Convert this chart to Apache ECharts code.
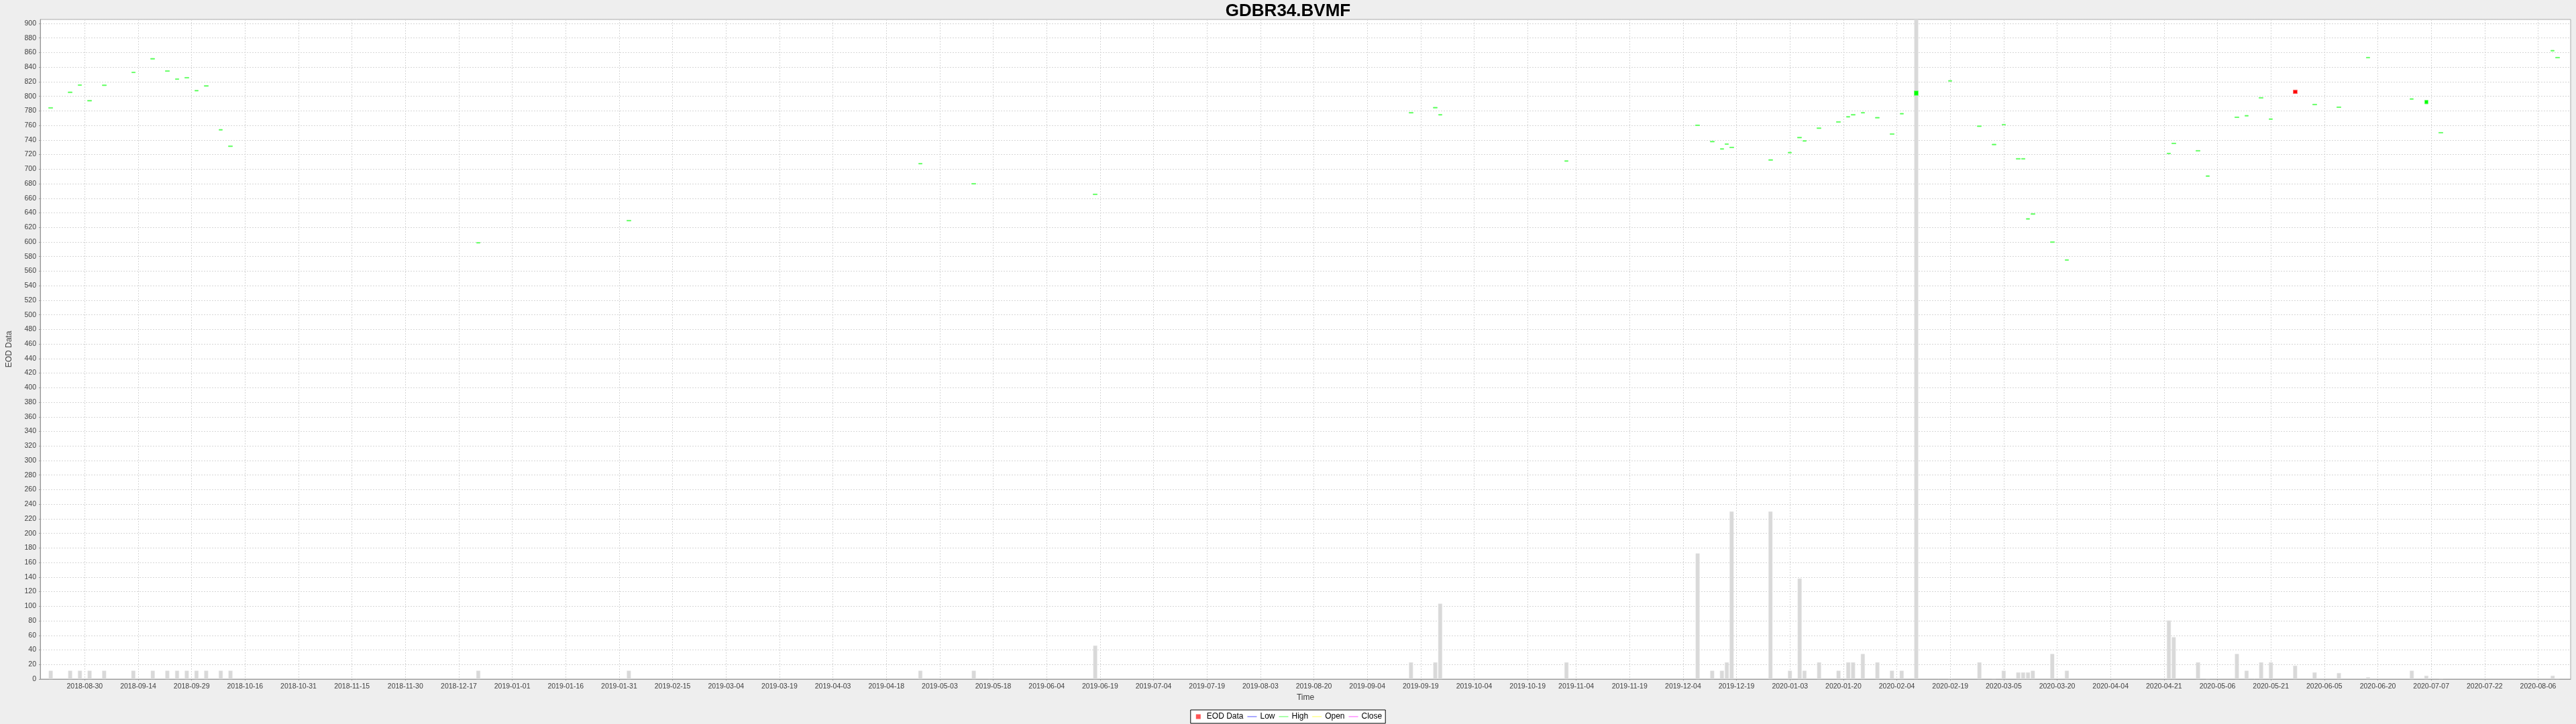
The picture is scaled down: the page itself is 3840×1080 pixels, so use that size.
<!DOCTYPE html>
<html>
<head>
<meta charset="utf-8">
<script src="https://cdn.jsdelivr.net/npm/echarts@6/dist/echarts.min.js"></script>
<style>
html,body{margin:0;padding:0;background:#eeeeee;}
#chart{width:3840px;height:1080px;}
</style>
</head>
<body>
<div id="chart"></div>
<script>
// ---------- DATA ----------
const dates = [
  '2018-08-21','2018-08-27','2018-08-29','2018-08-31','2018-09-05','2018-09-13','2018-09-19',
  '2018-09-24','2018-09-26','2018-09-28','2018-10-02','2018-10-04','2018-10-09','2018-10-11',
  '2018-12-21','2019-02-04','2019-04-29','2019-05-14','2019-06-18',
  '2019-09-17','2019-09-24','2019-09-25','2019-10-31',
  '2019-12-09','2019-12-12','2019-12-16','2019-12-17','2019-12-18','2019-12-30',
  '2020-01-03','2020-01-07','2020-01-08','2020-01-13','2020-01-17','2020-01-21','2020-01-22','2020-01-24','2020-01-29',
  '2020-02-03','2020-02-05','2020-02-10','2020-02-19','2020-02-27',
  '2020-03-03','2020-03-05','2020-03-10','2020-03-11','2020-03-12','2020-03-13','2020-03-19','2020-03-24',
  '2020-04-22','2020-04-23','2020-04-30',
  '2020-05-04','2020-05-12','2020-05-14','2020-05-19','2020-05-21','2020-05-28',
  '2020-06-03','2020-06-10','2020-06-18',
  '2020-07-01','2020-07-06','2020-07-09',
  '2020-08-11','2020-08-12'
];
const openVals = [
  783.6,805.0,814.9,793.4,814.6,832.3,851.0,
  834.2,823.1,825.0,807.2,813.7,753.5,730.9,
  598.4,628.8,707.0,679.4,664.9,
  776.9,783.9,774.1,710.6,
  759.7,737.3,727.2,733.9,729.3,712.1,
  722.2,742.8,738.2,755.7,764.3,771.3,774.1,776.9,770.1,
  747.7,775.6,801.3,820.7,758.4,
  733.3,760.6,713.7,713.7,631.2,637.9,599.3,574.8,
  721.0,734.8,724.7,
  690.0,770.7,772.8,797.4,768.2,808.6,
  788.2,784.5,852.6,
  795.8,789.6,749.5,
  862.1,852.6
];
const closeVals = [
  784.6,806.0,815.9,794.4,815.6,833.3,852.0,
  835.2,824.1,826.0,808.2,814.7,754.5,731.9,
  599.4,629.8,708.0,680.4,665.9,
  777.9,784.9,775.1,711.6,
  760.7,738.3,728.2,734.9,730.3,713.1,
  723.2,743.8,739.2,756.7,765.3,772.3,775.1,777.9,771.1,
  748.7,776.6,807.4,821.7,759.4,
  734.3,761.6,714.7,714.7,632.2,638.9,600.3,575.8,
  722.0,735.8,725.7,
  691.0,771.7,773.8,798.4,769.2,803.7,
  789.2,785.5,853.6,
  796.8,794.5,750.5,
  863.1,853.6
];
const lowVals = [
  783.6,805.0,814.9,793.4,814.6,832.3,851.0,
  834.2,823.1,825.0,807.2,813.7,753.5,730.9,
  598.4,628.8,707.0,679.4,664.9,
  776.9,783.9,774.1,710.6,
  759.7,737.3,727.2,733.9,729.3,712.1,
  722.2,742.8,738.2,755.7,764.3,771.3,774.1,776.9,770.1,
  747.7,775.6,801.3,820.7,758.4,
  733.3,760.6,713.7,713.7,631.2,637.9,599.3,574.8,
  721.0,734.8,724.7,
  690.0,770.7,772.8,797.4,768.2,803.7,
  788.2,784.5,852.6,
  795.8,789.6,749.5,
  862.1,852.6
];
const highVals = [
  784.6,806.0,815.9,794.4,815.6,833.3,852.0,
  835.2,824.1,826.0,808.2,814.7,754.5,731.9,
  599.4,629.8,708.0,680.4,665.9,
  777.9,784.9,775.1,711.6,
  760.7,738.3,728.2,734.9,730.3,713.1,
  723.2,743.8,739.2,756.7,765.3,772.3,775.1,777.9,771.1,
  748.7,776.6,807.4,821.7,759.4,
  734.3,761.6,714.7,714.7,632.2,638.9,600.3,575.8,
  722.0,735.8,725.7,
  691.0,771.7,773.8,798.4,769.2,808.6,
  789.2,785.5,853.6,
  796.8,794.5,750.5,
  863.1,853.6
];
const volumes = [
  11.5,11.5,11.5,11.5,11.5,11.5,11.5,
  11.5,11.5,11.5,11.5,11.5,11.5,11.5,
  11.5,11.5,11.5,11.5,46,
  23,23,103.5,23,
  172.5,11.5,11.5,23,230,230,
  11.5,138,11.5,23,11.5,23,23,34.5,23,
  11.5,11.5,1250,1,23,
  1,11.5,9.2,9.2,9.2,11.5,34.5,11.5,
  80.5,57.5,23,
  1,34.5,11.5,23,23,18.4,
  9.2,8.3,2.4,
  11.5,4.6,1,
  4.6,1
];
const tickLabels = [
  '2018-08-30','2018-09-14','2018-09-29','2018-10-16','2018-10-31','2018-11-15','2018-11-30','2018-12-17',
  '2019-01-01','2019-01-16','2019-01-31','2019-02-15','2019-03-04','2019-03-19','2019-04-03','2019-04-18',
  '2019-05-03','2019-05-18','2019-06-04','2019-06-19','2019-07-04','2019-07-19','2019-08-03','2019-08-20',
  '2019-09-04','2019-09-19','2019-10-04','2019-10-19','2019-11-04','2019-11-19','2019-12-04','2019-12-19',
  '2020-01-03','2020-01-20','2020-02-04','2020-02-19','2020-03-05','2020-03-20','2020-04-04','2020-04-21',
  '2020-05-06','2020-05-21','2020-06-05','2020-06-20','2020-07-07','2020-07-22','2020-08-06'
];

// ---------- weekday (Mon-Fri) timeline scale ----------
const ORIGIN = Date.UTC(2018, 7, 30); // Thursday
function tradePos(s) {
  const p = s.split('-').map(Number);
  const d = Math.round((Date.UTC(p[0], p[1] - 1, p[2]) - ORIGIN) / 86400000);
  const w = Math.floor(d / 7);
  const r = d - 7 * w; // 0=Thu,1=Fri,2=Sat,3=Sun,4=Mon,5=Tue,6=Wed
  return 5 * w + [0, 1, 2, 2, 2, 3, 4][r];
}

const tickPos = tickLabels.map(tradePos);
const labelAt = {};
tickPos.forEach((p, i) => { labelAt[p] = tickLabels[i]; });

const candleData = dates.map((d, i) => [tradePos(d), openVals[i], closeVals[i], lowVals[i], highVals[i]]);
const volumeData = dates.map((d, i) => [tradePos(d), volumes[i]]);

const FONT = '"Liberation Sans", Arial, sans-serif';
const SQ = 'path://M0,0h0.01v8h-0.01zM13.99,0h0.01v8h-0.01zM3,0.5h7v7h-7z';
const LN = 'path://M0,0h0.01v8h-0.01zM0,3.5h14v1h-14z';

const chart = echarts.init(document.getElementById('chart'), null, {renderer: 'canvas'});
chart.setOption({
  animation: false,
  backgroundColor: '#eeeeee',
  title: {
    text: 'GDBR34.BVMF',
    left: 'center',
    top: -1,
    textStyle: {fontFamily: FONT, fontSize: 26, fontWeight: 'bold', color: '#000'}
  },
  legend: {
    bottom: 1,
    left: 'center',
    selectedMode: false,
    itemWidth: 14,
    itemHeight: 8,
    itemGap: 6,
    padding: [4, 5],
    borderColor: '#000',
    borderWidth: 1,
    borderRadius: 0,
    backgroundColor: '#ffffff',
    textStyle: {fontFamily: FONT, fontSize: 12, color: '#000'},
    data: [
      {name: 'EOD Data', icon: SQ, itemStyle: {color: '#ff5555', borderWidth: 0}},
      {name: 'Low', icon: LN, itemStyle: {color: '#5555ff', borderWidth: 0}},
      {name: 'High', icon: LN, itemStyle: {color: '#55ff55', borderWidth: 0}},
      {name: 'Open', icon: LN, itemStyle: {color: '#ffff55', borderWidth: 0}},
      {name: 'Close', icon: LN, itemStyle: {color: '#ff55ff', borderWidth: 0}}
    ]
  },
  grid: {
    left: 56, right: 8, top: 29, bottom: 67,
    show: true, backgroundColor: '#ffffff', borderColor: '#aaaaaa', borderWidth: 1,
    containLabel: false
  },
  xAxis: {
    type: 'value',
    min: -9.16,
    max: 511.7,
    name: 'Time',
    nameLocation: 'middle',
    nameGap: 22,
    nameTextStyle: {fontFamily: FONT, fontSize: 12, color: '#404040'},
    axisLine: {show: true, onZero: false, lineStyle: {color: '#999999'}},
    axisTick: {show: true, length: 2, customValues: tickPos, lineStyle: {color: '#999999'}},
    axisLabel: {
      customValues: tickPos,
      margin: 6,
      fontFamily: FONT, fontSize: 10.5, color: '#404040',
      formatter: v => labelAt[Math.round(v)] || ''
    },
    splitLine: {show: true, lineStyle: {color: '#d6d6d6', type: [2, 2], width: 1}}
  },
  yAxis: {
    type: 'value',
    min: 0,
    max: 905.5,
    interval: 20,
    name: 'EOD Data',
    nameLocation: 'middle',
    nameGap: 40,
    nameTextStyle: {fontFamily: FONT, fontSize: 12, color: '#404040'},
    axisLine: {show: true, onZero: false, lineStyle: {color: '#999999'}},
    axisTick: {show: true, length: 2, lineStyle: {color: '#999999'}},
    axisLabel: {margin: 6, fontFamily: FONT, fontSize: 10.5, color: '#404040', showMaxLabel: false},
    splitLine: {show: true, lineStyle: {color: '#d6d6d6', type: [2, 2], width: 1}}
  },
  series: [
    {
      name: 'Volume',
      type: 'bar',
      data: volumeData,
      barWidth: 6,
      clip: true,
      z: 1,
      itemStyle: {color: '#d9d9d9', borderColor: '#e3e3e3', borderWidth: 0.5}
    },
    {
      name: 'EOD Data',
      type: 'candlestick',
      data: candleData,
      encode: {x: 0, y: [1, 2, 3, 4]},
      barWidth: 6,
      z: 3,
      itemStyle: {
        color: '#00ff00', color0: '#ff0000',
        borderColor: '#70ff70', borderColor0: '#ff7070',
        borderWidth: 1
      }
    },
    {name: 'Low', type: 'line', data: [], color: '#5555ff', symbol: 'none'},
    {name: 'High', type: 'line', data: [], color: '#55ff55', symbol: 'none'},
    {name: 'Open', type: 'line', data: [], color: '#ffff55', symbol: 'none'},
    {name: 'Close', type: 'line', data: [], color: '#ff55ff', symbol: 'none'}
  ]
});
</script>
</body>
</html>
